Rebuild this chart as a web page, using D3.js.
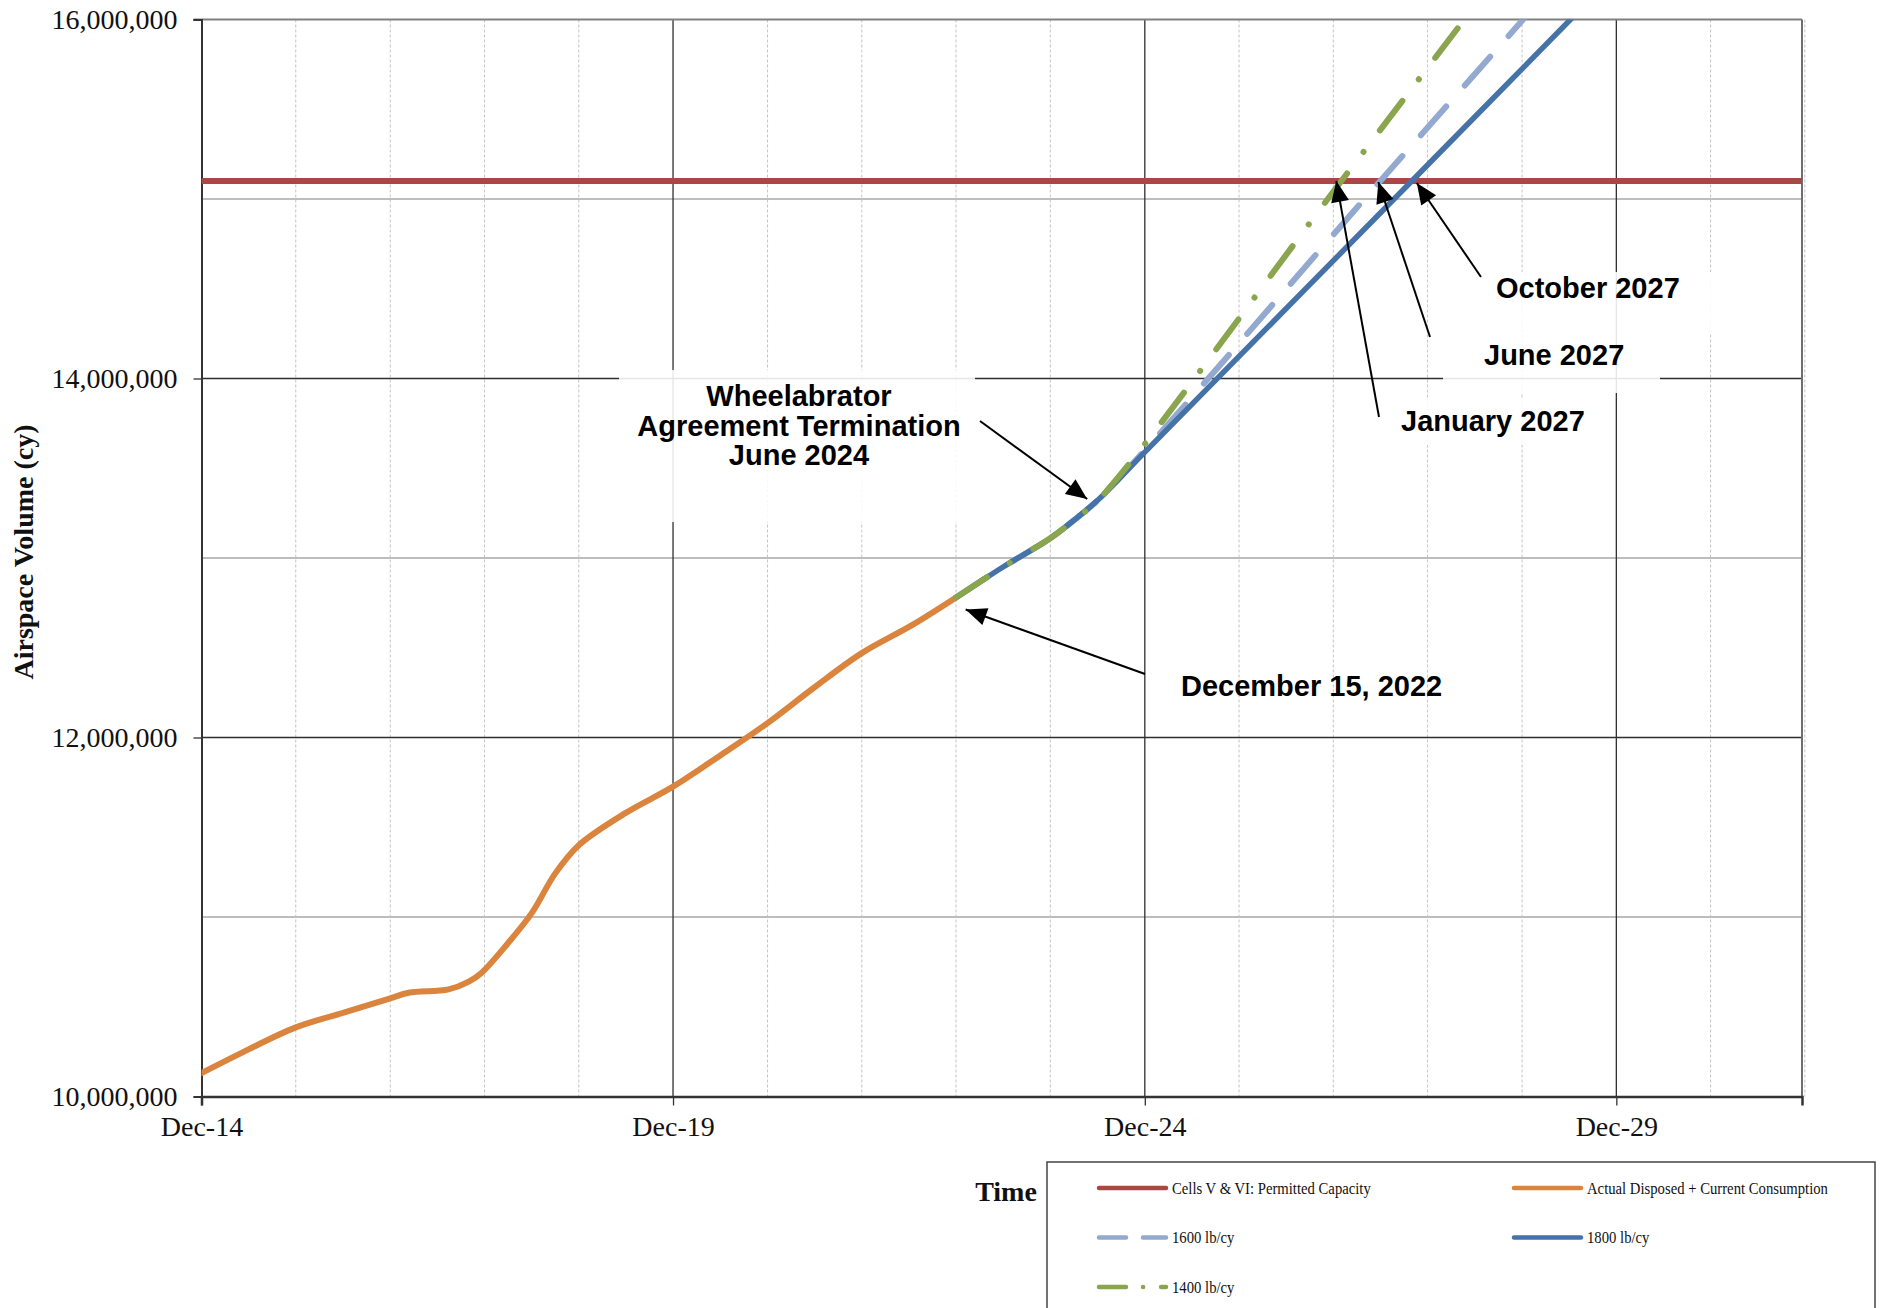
<!DOCTYPE html>
<html>
<head>
<meta charset="utf-8">
<script src="https://cdn.jsdelivr.net/npm/d3@7"></script>
<style>
  body { margin: 0; background: #fff; }
  svg { display: block; }
</style>
</head>
<body>
<svg id="chart" width="1881" height="1308"></svg>
<script>
// ---- Data (volumes in cubic yards) ----
const capacityValue = 15100000;   // Cells V & VI: Permitted Capacity

const actualDates = ["2014-12-01","2015-05-15","2015-12-01","2016-06-10","2016-12-01","2017-02-10",
  "2017-07-15","2017-10-01","2017-11-20","2018-03-01","2018-06-01","2018-09-01","2018-12-01",
  "2019-06-01","2019-12-01","2020-06-01","2020-12-01","2021-06-01",
  "2021-12-01","2022-06-15","2022-12-01"];
const actualValues = [10130000,10250000,10385000,10470000,10547000,10578000,
  10597000,10640000,10690000,10853000,11020000,11243000,11400000,
  11580000,11726000,11900000,12080000,12280000,
  12470000,12627000,12780000];

const dates1600 = ["2022-12-01","2023-06-01","2023-12-01","2024-03-01","2024-06-15","2027-06-01","2029-06-01"];
const values1600 = [12780000,12950000,13110000,13210000,13340000,15100000,16290000];

const dates1800 = ["2022-12-01","2023-06-01","2023-12-01","2024-03-01","2024-06-15","2024-12-01","2027-10-01","2029-12-01"];
const values1800 = [12780000,12950000,13110000,13210000,13340000,13590000,15100000,16260000];

const dates1400 = ["2022-12-01","2023-06-01","2023-12-01","2024-03-01","2024-06-15","2027-01-01","2029-01-01"];
const values1400 = [12780000,12950000,13110000,13210000,13340000,15100000,16480000];

const yTickValues = [10000000,12000000,14000000,16000000];
const yMinorValues = [11000000,13000000,15000000];
const xMajorYears = [2014,2019,2024,2029];
const xMinorYears = [2015,2016,2017,2018,2020,2021,2022,2023,2025,2026,2027,2028,2030,2031];

const legendLabels = ["Cells V & VI: Permitted Capacity","Actual Disposed + Current Consumption",
  "1600 lb/cy","1800 lb/cy","1400 lb/cy"];

// ---- Setup ----
const parse = d3.timeParse("%Y-%m-%d");
const svg = d3.select("#chart");
const L = 201.5, R = 1802, T = 19.5, B = 1096.5;

const x = d3.scaleTime()
  .domain([new Date(2014, 11, 1), new Date(2031, 10, 20)])
  .range([L, R]);
const y = d3.scaleLinear().domain([10000000, 16000000]).range([B, T]);

const dec = yr => new Date(yr, 11, 1);
const serif = "'Liberation Serif','Times New Roman',serif";
const sans = "'Liberation Sans',Arial,sans-serif";

svg.append("rect").attr("width", 1881).attr("height", 1308).attr("fill", "#fff");

// ---- Gridlines ----
const grid = svg.append("g");
grid.selectAll(".vminor").data(xMinorYears).join("line")
  .attr("x1", d => x(dec(d))).attr("x2", d => x(dec(d)))
  .attr("y1", T).attr("y2", B)
  .attr("stroke", "#c4c4c4").attr("stroke-width", 1).attr("stroke-dasharray", "3,2");
grid.selectAll(".hminor").data(yMinorValues).join("line")
  .attr("x1", L).attr("x2", R).attr("y1", d => y(d)).attr("y2", d => y(d))
  .attr("stroke", "#bdbdbd").attr("stroke-width", 2);
grid.selectAll(".hmajor").data(yTickValues.filter(v => v > 10000000 && v < 16000000)).join("line")
  .attr("x1", L).attr("x2", R).attr("y1", d => y(d)).attr("y2", d => y(d))
  .attr("stroke", "#2f2f2f").attr("stroke-width", 1.3);
grid.selectAll(".vmajor").data(xMajorYears.slice(1)).join("line")
  .attr("x1", d => x(dec(d))).attr("x2", d => x(dec(d)))
  .attr("y1", T).attr("y2", B)
  .attr("stroke", "#2f2f2f").attr("stroke-width", 1.3);

// plot frame: top and right in grey
svg.append("line").attr("x1", L - 8).attr("x2", R).attr("y1", T).attr("y2", T)
  .attr("stroke", "#808080").attr("stroke-width", 2);
svg.append("line").attr("x1", R).attr("x2", R).attr("y1", T).attr("y2", B)
  .attr("stroke", "#6f6f6f").attr("stroke-width", 2);

// ---- White text-box backgrounds of the callouts ----
const boxes = [
  {x0: 619, y0: 370, x1: 975, y1: 522},
  {x0: 1480, y0: 272, x1: 1720, y1: 333},
  {x0: 1443, y0: 333, x1: 1660, y1: 393},
  {x0: 1395, y0: 398, x1: 1598, y1: 445}
];
svg.append("g").selectAll("rect").data(boxes).join("rect")
  .attr("x", d => d.x0).attr("y", d => d.y0)
  .attr("width", d => d.x1 - d.x0).attr("height", d => d.y1 - d.y0)
  .attr("fill", "#fff").attr("opacity", 0.88);

// ---- Axes ----
const yAxis = d3.axisLeft(y).tickValues(yTickValues).tickSize(8).tickPadding(16)
  .tickFormat(d3.format(",.0f"));
const gy = svg.append("g").attr("transform", `translate(${L},0)`).call(yAxis);
gy.select(".domain").attr("stroke", "#333").attr("stroke-width", 2);
gy.selectAll(".tick line").attr("stroke", "#333").attr("stroke-width", 1.3);
gy.selectAll(".tick text").attr("font-family", serif).attr("font-size", 28).attr("fill", "#111");

const xAxis = d3.axisBottom(x).tickValues(xMajorYears.map(dec)).tickSize(9).tickPadding(11)
  .tickFormat(d3.timeFormat("%b-%y"));
const gx = svg.append("g").attr("transform", `translate(0,${B})`).call(xAxis);
gx.select(".domain").attr("stroke", "#333").attr("stroke-width", 2.5);
gx.selectAll(".tick line").attr("stroke", "#333").attr("stroke-width", 1.3);
gx.selectAll(".tick text").attr("font-family", serif).attr("font-size", 28).attr("fill", "#111");

// axis titles
svg.append("text").attr("transform", "translate(33,552) rotate(-90)")
  .attr("text-anchor", "middle").attr("font-family", serif).attr("font-weight", "bold")
  .attr("font-size", 28).attr("fill", "#111").text("Airspace Volume (cy)");
svg.append("text").attr("x", 1006).attr("y", 1201)
  .attr("text-anchor", "middle").attr("font-family", serif).attr("font-weight", "bold")
  .attr("font-size", 28).attr("fill", "#111").text("Time");

// ---- Series ----
svg.append("clipPath").attr("id", "plotClip").append("rect")
  .attr("x", L).attr("y", T).attr("width", R - L).attr("height", B - T);
const plot = svg.append("g").attr("clip-path", "url(#plotClip)");

const line = d3.line().x(d => x(d.date)).y(d => y(d.value)).curve(d3.curveCatmullRom.alpha(0.5));
const zipSeries = (ds, vs) => ds.map((d, i) => ({date: parse(d), value: vs[i]}));

const colors = {cap: "#AA4643", actual: "#DB843D", s1600: "#93A9CF", s1800: "#4572A7", s1400: "#89A54E"};

// capacity
plot.append("path")
  .datum([{date: x.domain()[0], value: capacityValue}, {date: x.domain()[1], value: capacityValue}])
  .attr("d", d3.line().x(d => x(d.date)).y(d => y(d.value)))
  .attr("fill", "none").attr("stroke", colors.cap).attr("stroke-width", 6);

plot.append("path").datum(zipSeries(actualDates, actualValues)).attr("d", line)
  .attr("fill", "none").attr("stroke", colors.actual).attr("stroke-width", 6)
  .attr("stroke-linecap", "round");

plot.append("path").datum(zipSeries(dates1600, values1600)).attr("d", line)
  .attr("fill", "none").attr("stroke", colors.s1600).attr("stroke-width", 6)
  .attr("stroke-linecap", "round").attr("stroke-dasharray", "38,28");

plot.append("path").datum(zipSeries(dates1800, values1800)).attr("d", line)
  .attr("fill", "none").attr("stroke", colors.s1800).attr("stroke-width", 5.5)
  .attr("stroke-linecap", "round");

plot.append("path").datum(zipSeries(dates1400, values1400)).attr("d", line)
  .attr("fill", "none").attr("stroke", colors.s1400).attr("stroke-width", 6)
  .attr("stroke-linecap", "round").attr("stroke-dasharray", "37,27,0.1,27");

// ---- Callouts ----
svg.append("defs").append("marker")
  .attr("id", "arrowHead").attr("markerUnits", "userSpaceOnUse")
  .attr("viewBox", "-22 -11 24 22").attr("refX", 0).attr("refY", 0)
  .attr("markerWidth", 24).attr("markerHeight", 22).attr("orient", "auto")
  .append("path").attr("d", "M0,0 L-21,-9 L-21,9 Z").attr("fill", "#000");

// anchor = date/value the arrow points at; dx/dy = pixel nudges of the tip; from = tail position
const callouts = [
  {anchor: ["2022-12-15", 12780000], dx: 6, dy: 12, from: [1145, 674]},
  {anchor: ["2024-06-15", 13340000], dx: -14, dy: 2, from: [980, 421]},
  {anchor: ["2027-01-01", 15100000], dx: -5, dy: 0, from: [1379, 417]},
  {anchor: ["2027-06-01", 15100000], dx: -2, dy: 1, from: [1430, 337]},
  {anchor: ["2027-10-01", 15100000], dx: 5, dy: 2, from: [1481, 277]}
];
svg.append("g").selectAll("line").data(callouts).join("line")
  .attr("x1", d => d.from[0]).attr("y1", d => d.from[1])
  .attr("x2", d => x(parse(d.anchor[0])) + d.dx).attr("y2", d => y(d.anchor[1]) + d.dy)
  .attr("stroke", "#000").attr("stroke-width", 2).attr("marker-end", "url(#arrowHead)");

const labels = [
  {t: "Wheelabrator", x: 799, y: 396, a: "middle"},
  {t: "Agreement Termination", x: 799, y: 426, a: "middle"},
  {t: "June 2024", x: 799, y: 455, a: "middle"},
  {t: "December 15, 2022", x: 1181, y: 686, a: "start"},
  {t: "October 2027", x: 1496, y: 288, a: "start"},
  {t: "June 2027", x: 1484, y: 355, a: "start"},
  {t: "January 2027", x: 1401, y: 421, a: "start"}
];
svg.append("g").selectAll("text").data(labels).join("text")
  .attr("x", d => d.x).attr("y", d => d.y).attr("dy", "0.36em")
  .attr("text-anchor", d => d.a).attr("font-family", sans).attr("font-weight", "bold")
  .attr("font-size", 29).attr("fill", "#000").text(d => d.t);

// ---- Legend ----
const lg = svg.append("g");
lg.append("rect").attr("x", 1047).attr("y", 1162).attr("width", 828).attr("height", 200)
  .attr("fill", "#fff").attr("stroke", "#444").attr("stroke-width", 1.5);

const legendItems = [
  {label: legendLabels[0], color: colors.cap, dash: null, col: 0, row: 0},
  {label: legendLabels[1], color: colors.actual, dash: null, col: 1, row: 0},
  {label: legendLabels[2], color: colors.s1600, dash: "27,17", col: 0, row: 1},
  {label: legendLabels[3], color: colors.s1800, dash: null, col: 1, row: 1},
  {label: legendLabels[4], color: colors.s1400, dash: "27,17,0.1,18", col: 0, row: 2}
];
const colX = [1099, 1514], rowY = [1188, 1237.5, 1287];
const li = lg.selectAll(".item").data(legendItems).join("g")
  .attr("transform", d => `translate(${colX[d.col]},${rowY[d.row]})`);
li.append("line").attr("x1", 0).attr("x2", 67).attr("y1", 0).attr("y2", 0)
  .attr("stroke", d => d.color).attr("stroke-width", 4.5)
  .attr("stroke-linecap", "round")
  .attr("stroke-dasharray", d => d.dash);
li.append("text").attr("transform", "translate(73,0) scale(0.84,1)")
  .attr("dy", "0.33em").attr("font-family", serif).attr("font-size", 17.5)
  .attr("fill", "#111").text(d => d.label);
</script>
</body>
</html>
